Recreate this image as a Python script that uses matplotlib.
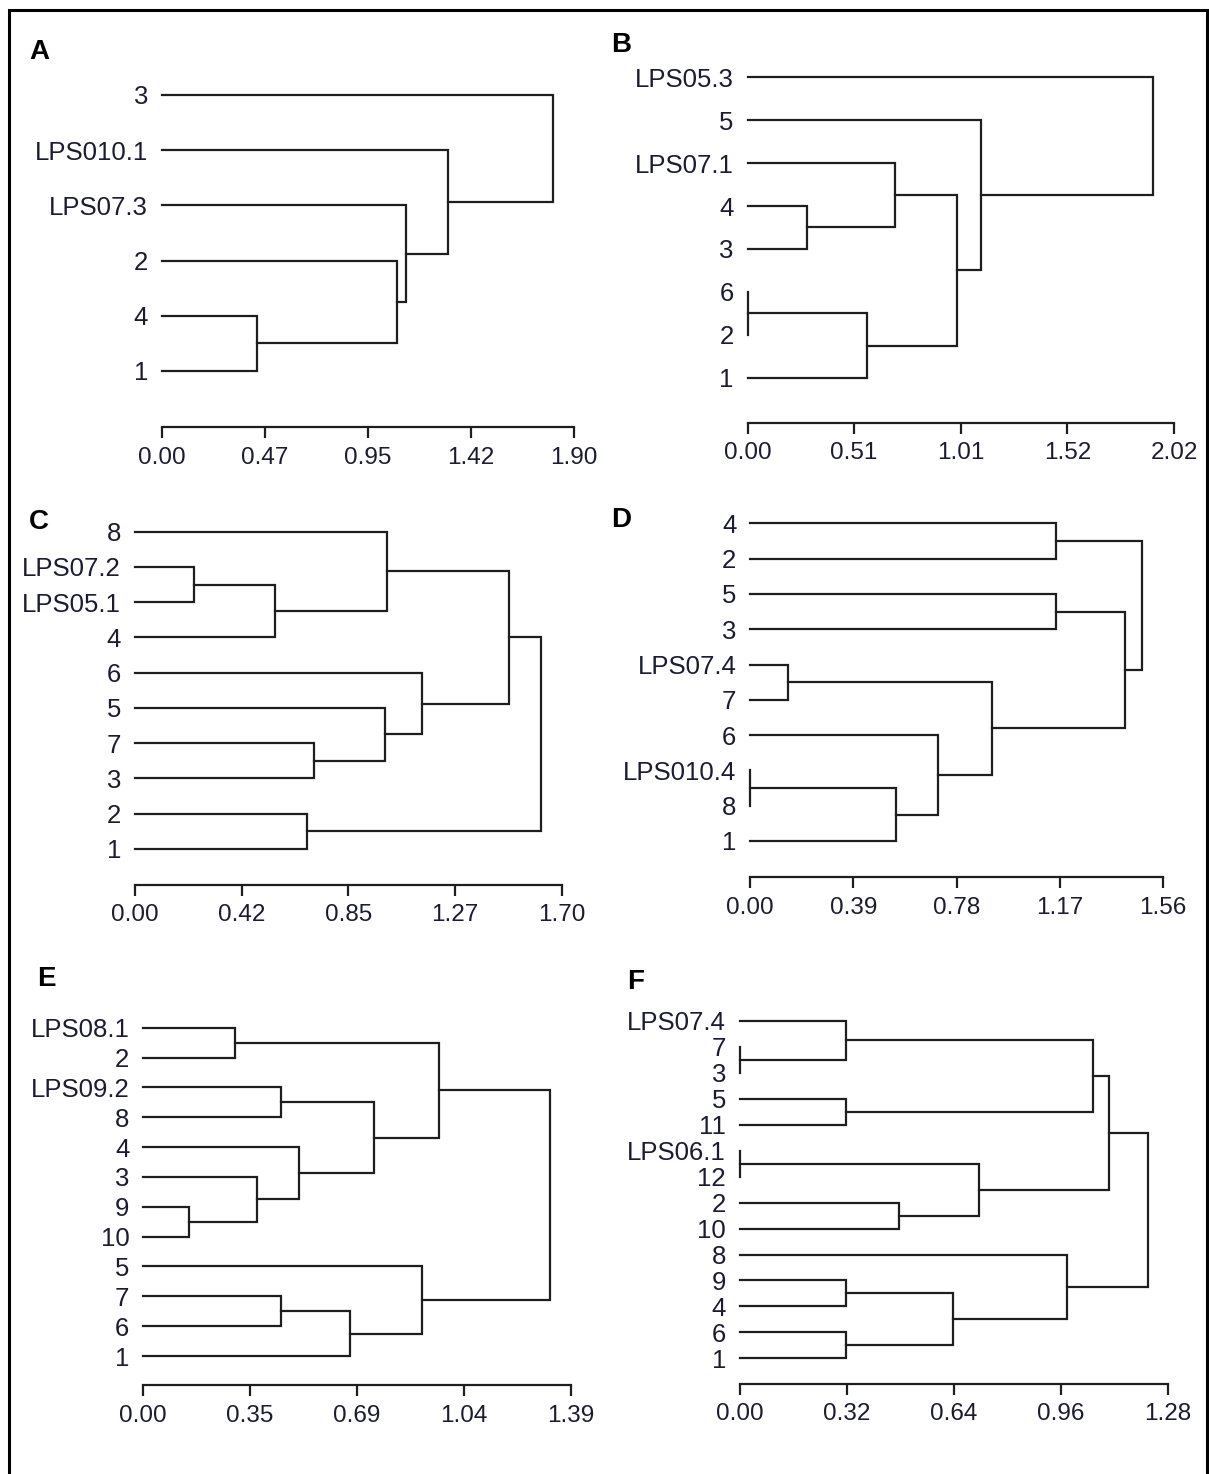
import numpy as np
import matplotlib
matplotlib.use("Agg")
import matplotlib.pyplot as plt
from matplotlib.lines import Line2D

plt.rcParams['font.family'] = ['Liberation Sans', 'DejaVu Sans']

# leaf order (top to bottom) and merges (child a, child b, distance);
# new clusters get index n, n+1, ... in merge order, like a linkage table
leaves_a = ['3', 'LPS010.1', 'LPS07.3', '2', '4', '1']
merges_a = [(4, 5, 0.440), (3, 6, 1.085), (2, 7, 1.125), (1, 8, 1.318), (0, 9, 1.805)]
ticks_a = ['0.00', '0.47', '0.95', '1.42', '1.90']
xmax_a = 1.90

leaves_b = ['LPS05.3', '5', 'LPS07.1', '4', '3', '6', '2', '1']
merges_b = [(3, 4, 0.281), (2, 8, 0.699), (5, 6, 0.0), (10, 7, 0.565),
            (9, 11, 0.993), (1, 12, 1.107), (0, 13, 1.922)]
ticks_b = ['0.00', '0.51', '1.01', '1.52', '2.02']
xmax_b = 2.02

leaves_c = ['8', 'LPS07.2', 'LPS05.1', '4', '6', '5', '7', '3', '2', '1']
merges_c = [(1, 2, 0.237), (10, 3, 0.560), (0, 11, 1.005), (6, 7, 0.712),
            (5, 13, 0.997), (4, 14, 1.142), (12, 15, 1.491), (8, 9, 0.687),
            (16, 17, 1.618)]
ticks_c = ['0.00', '0.42', '0.85', '1.27', '1.70']
xmax_c = 1.70

leaves_d = ['4', '2', '5', '3', 'LPS07.4', '7', '6', 'LPS010.4', '8', '1']
merges_d = [(0, 1, 1.156), (2, 3, 1.156), (4, 5, 0.144), (7, 8, 0.0),
            (13, 9, 0.552), (6, 14, 0.710), (12, 15, 0.914), (11, 16, 1.416),
            (10, 17, 1.482)]
ticks_d = ['0.00', '0.39', '0.78', '1.17', '1.56']
xmax_d = 1.56

leaves_e = ['LPS08.1', '2', 'LPS09.2', '8', '4', '3', '9', '10', '5', '7', '6', '1']
merges_e = [(0, 1, 0.300), (2, 3, 0.449), (6, 7, 0.1505), (5, 14, 0.371),
            (4, 15, 0.508), (13, 16, 0.751), (12, 17, 0.960), (9, 10, 0.449),
            (19, 11, 0.673), (8, 20, 0.907), (18, 21, 1.323)]
ticks_e = ['0.00', '0.35', '0.69', '1.04', '1.39']
xmax_e = 1.39

leaves_f = ['LPS07.4', '7', '3', '5', '11', 'LPS06.1', '12', '2', '10',
            '8', '9', '4', '6', '1']
merges_f = [(1, 2, 0.0), (0, 14, 0.318), (3, 4, 0.318), (15, 16, 1.057),
            (5, 6, 0.0), (7, 8, 0.475), (18, 19, 0.714), (17, 20, 1.103),
            (10, 11, 0.318), (12, 13, 0.318), (22, 23, 0.637), (9, 24, 0.977),
            (21, 25, 1.219)]
ticks_f = ['0.00', '0.32', '0.64', '0.96', '1.28']
xmax_f = 1.28

W, H = 1209, 1474
fig = plt.figure(figsize=(W / 100, H / 100), dpi=100)

TXT = '#1c1c30'
LN = '#1e1e1e'


def draw_dendrogram(ax, leaves, merges, xmax, ticks, gap):
    n = len(leaves)
    ys = [n - 1 - i for i in range(n)]
    hs = [0.0] * n
    for a, b, h in merges:
        ax.plot([hs[a], h, h, hs[b]], [ys[a], ys[a], ys[b], ys[b]],
                color=LN, lw=1.6, solid_joinstyle='miter', clip_on=False)
        ys.append((ys[a] + ys[b]) / 2)
        hs.append(h)
    ax.set_xlim(0, xmax)
    ax.set_ylim(-gap, n - 1)
    ax.set_yticks(ys[:n], leaves)
    ax.set_xticks(np.linspace(0, xmax, len(ticks)), ticks)
    for s in ['top', 'right', 'left']:
        ax.spines[s].set_visible(False)
    ax.spines['bottom'].set_linewidth(1.6)
    ax.spines['bottom'].set_color(LN)
    ax.tick_params(axis='y', length=0, pad=10, labelsize=18.5, labelcolor=TXT)
    ax.tick_params(axis='x', direction='out', length=8, width=1.6, color=LN,
                   pad=6, labelsize=17.5, labelcolor=TXT)
    ax.patch.set_visible(False)


# panel placement in pixels: zero tick x, last tick x, top leaf y, bottom leaf y, axis y
panels = [
    ('A', leaves_a, merges_a, xmax_a, ticks_a, (162, 574, 95, 371, 427.3), (29, 59)),
    ('B', leaves_b, merges_b, xmax_b, ticks_b, (747.5, 1174, 77.3, 377.7, 422.7), (611, 52)),
    ('C', leaves_c, merges_c, xmax_c, ticks_c, (135, 561.5, 531.7, 849, 885), (29, 529)),
    ('D', leaves_d, merges_d, xmax_d, ticks_d, (750.3, 1163, 523.3, 841, 877.3), (611, 527)),
    ('E', leaves_e, merges_e, xmax_e, ticks_e, (143.2, 570.8, 1027.7, 1356, 1385.3), (37, 986)),
    ('F', leaves_f, merges_f, xmax_f, ticks_f, (740, 1168, 1021, 1358.3, 1384), (627, 989)),
]

for letter, leaves, merges, xmax, ticks, (x0, x1, ytop, ybot, yax), (lx, ly) in panels:
    n = len(leaves)
    gap = (yax - ybot) / (ybot - ytop) * (n - 1)
    ax = fig.add_axes([x0 / W, 1 - yax / H, (x1 - x0) / W, (yax - ytop) / H])
    draw_dendrogram(ax, leaves, merges, xmax, ticks, gap)
    fig.text(lx / W, 1 - ly / H, letter, fontsize=20, fontweight='bold',
             ha='left', va='baseline', color='black')

# frame around the figure (open at the bottom)
bx0, bx1, by = 8.7 / W, 1207 / W, 1 - 10.3 / H
fig.add_artist(Line2D([bx0, bx0, bx1, bx1], [0, by, by, 0],
                      color='black', lw=2.2, solid_joinstyle='miter'))

fig.savefig('out.png', dpi=100, facecolor='white')
